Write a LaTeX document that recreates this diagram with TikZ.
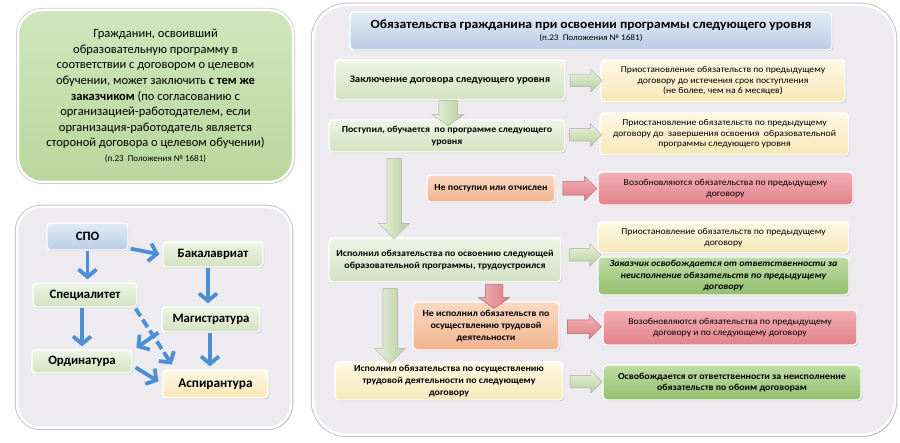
\documentclass[tikz,border=0pt]{standalone}
\usepackage{fontspec}
\setmainfont{Carlito}
\newfontfamily\wf[FakeStretch=1.08]{Carlito}
\usetikzlibrary{shapes.arrows,shadows,arrows.meta,calc}
\definecolor{panelF}{HTML}{EDEBEF}
\definecolor{bigGT}{HTML}{D0E6BC}
\definecolor{bigGB}{HTML}{B8D79C}
\definecolor{gT}{HTML}{EEF4E6}
\definecolor{gB}{HTML}{D3E2C1}
\definecolor{yT}{HTML}{FEF8E4}
\definecolor{yB}{HTML}{F8E8B8}
\definecolor{oT}{HTML}{FAD9C2}
\definecolor{oB}{HTML}{F1B48E}
\definecolor{rT}{HTML}{F1B0B4}
\definecolor{rB}{HTML}{E2818A}
\definecolor{dgT}{HTML}{BEDCA4}
\definecolor{dgB}{HTML}{93C06F}
\definecolor{bT}{HTML}{E2EBF5}
\definecolor{bB}{HTML}{B9CDE5}
\definecolor{barr}{HTML}{4B8FD5}
\definecolor{agT}{HTML}{EAF1E0}
\definecolor{agB}{HTML}{B5CF9C}
\definecolor{arT}{HTML}{F2B3B7}
\definecolor{arB}{HTML}{DD7C85}
\tikzset{
  panel/.style={rounded corners=28pt, fill=panelF, draw=white, line width=2.5pt,
    preaction={draw=gray!45, line width=4.5pt},
    drop shadow={opacity=0.25, shadow xshift=1.5pt, shadow yshift=-1.5pt}},
  box/.style={rounded corners=4pt, draw=white, line width=1.3pt, align=center, inner sep=1pt,
    drop shadow={opacity=0.35, shadow xshift=1.2pt, shadow yshift=-1.2pt}},
  gbox/.style={box, top color=gT, bottom color=gB},
  ybox/.style={box, top color=yT, bottom color=yB},
  obox/.style={box, top color=oT, bottom color=oB},
  rbox/.style={box, top color=rT, bottom color=rB},
  dgbox/.style={box, top color=dgT, bottom color=dgB},
  bbox/.style={box, top color=bT, bottom color=bB},
  rtxt/.style={font=\wf\fontsize{9}{10.6}\selectfont},
  btxt/.style={font=\wf\bfseries\fontsize{9.2}{11.8}\selectfont},
  lbl/.style={font=\bfseries\fontsize{12.8}{14}\selectfont},
  blk/.style={single arrow, draw=gray!65, line width=0.5pt},
  garH/.style={blk, inner sep=6pt, single arrow head extend=5pt, minimum height=32pt,
    top color=agT, bottom color=agB},
  rarH/.style={blk, inner sep=6.5pt, single arrow head extend=5.5pt, minimum height=34pt,
    top color=arT, bottom color=arB, draw=arB!80!black},
  garV/.style={blk, shape border rotate=270, inner sep=7pt, single arrow head extend=8pt,
    left color=agT, right color=agB},
  garS/.style={blk, shape border rotate=270, inner sep=9pt, single arrow head extend=6.5pt, single arrow tip angle=110,
    minimum height=18pt, left color=agT, right color=agB},
  rarS/.style={blk, shape border rotate=270, inner sep=8.5pt, single arrow head extend=6.5pt, single arrow tip angle=110,
    minimum height=18pt, left color=arT, right color=arB, draw=arB!80!black},
  barrow/.style={draw=barr, line width=3.8pt, -{Straight Barb[length=7.5pt,width=18pt]}, shorten >=1pt},
}
\begin{document}
\begin{tikzpicture}[x=1pt,y=-1pt]
\useasboundingbox (0,0) rectangle (900,443);
\fill[white] (0,0) rectangle (900,443);

% ---------- left top box ----------
\node[rounded corners=24pt, draw=white, line width=2.5pt, preaction={draw=gray!40, line width=4pt},
  top color=bigGT, bottom color=bigGB, drop shadow={opacity=0.25, shadow xshift=1.5pt, shadow yshift=-1.5pt},
  minimum width=275pt, minimum height=172pt, align=center, inner sep=0pt,
  font=\fontsize{12.5}{15.6}\selectfont] (info) at (155.5,96)
  {Гражданин, освоивший\\
   образовательную программу в\\
   соответствии с договором о целевом\\
   обучении, может заключить \textbf{с тем же}\\
   \textbf{заказчиком} (по согласованию с\\
   организацией-работодателем, если\\
   организация-работодатель является\\
   стороной договора о целевом обучении)\\[-1pt]
   {\fontsize{9}{11}\selectfont (п.23\ \ Положения № 1681)}};

% ---------- left bottom panel ----------
\node[panel, rounded corners=24pt, minimum width=274pt, minimum height=221pt] (lp) at (154,317.5) {};
\node[bbox, lbl, minimum width=81pt, minimum height=27pt] (spo) at (87.5,236.5) {СПО};
\node[gbox, lbl, minimum width=100pt, minimum height=25pt] (bak) at (213,254.5) {Бакалавриат};
\node[gbox, lbl, minimum width=104pt, minimum height=24pt] (spec) at (85,295) {Специалитет};
\node[gbox, lbl, minimum width=98pt, minimum height=25pt] (mag) at (211,319.5) {Магистратура};
\node[gbox, lbl, minimum width=100pt, minimum height=23pt] (ord) at (82,361.5) {Ординатура};
\node[ybox, lbl, font=\bfseries\fontsize{13.3}{14}\selectfont, minimum width=105pt, minimum height=28pt] (asp) at (215.5,384) {Аспирантура};

\draw[barrow] (spo.south) -- ([yshift=2pt]spo.south |- spec.north);
\draw[barrow] ($(spo.south east)+(2,-2)$) -- ([xshift=-2pt]bak.west);
\draw[barrow] ([xshift=-5pt]bak.south) -- ([xshift=-5pt,yshift=2pt]bak.south |- mag.north);
\draw[barrow] ([xshift=-3pt]spec.south) -- ([xshift=-3pt,yshift=2pt]spec.south |- ord.north);
\draw[barrow, dash pattern=on 9pt off 4pt] ($(spec.south east)+(-2,1)$) -- ($(asp.north west)+(10,-4)$);
\draw[barrow] ($(mag.south west)+(-3,0)$) -- ($(ord.north east)+(3,-1)$);
\draw[barrow] ([xshift=-1pt]mag.south) -- ([xshift=-1pt,yshift=2pt]mag.south |- asp.north);
\draw[barrow] ($(ord.east)+(3,6)$) -- ($(asp.west)+(-3,-2)$);

% ---------- right panel ----------
\node[panel, rounded corners=34pt, minimum width=582pt, minimum height=430pt] (rp) at (604,220) {};

\node[bbox, minimum width=482pt, minimum height=38pt, inner sep=0pt] (title) at (591,31)
  {{\wf\bfseries\fontsize{12.6}{15}\selectfont Обязательства гражданина при освоении программы следующего уровня}\\
   {\wf\fontsize{8.5}{10}\selectfont (п.23\ \ Положения № 1681)}};

\node[gbox, font=\wf\bfseries\fontsize{10}{12}\selectfont, minimum width=230pt, minimum height=40pt] (r1) at (450,80)
  {Заключение договора следующего уровня};
\node[ybox, rtxt, minimum width=244pt, minimum height=42pt] (y1) at (723,81)
  {Приостановление обязательств по предыдущему\\договору до истечения срок поступления\\(не более, чем на 6 месяцев)};

\node[gbox, btxt, minimum width=236pt, minimum height=32pt] (r2) at (447,136)
  {Поступил, обучается\ \ по программе следующего\\уровня};
\node[ybox, rtxt, minimum width=249pt, minimum height=42pt] (y2) at (724.5,134)
  {Приостановление обязательств по предыдущему\\договору до\ \ завершения освоения\ \ образовательной\\программы следующего уровня};

\node[obox, btxt, minimum width=128pt, minimum height=27pt] (r3) at (491,188.5)
  {Не поступил или отчислен};
\node[rbox, rtxt, minimum width=255pt, minimum height=33pt] (x3) at (725.5,188.5)
  {Возобновляются обязательства по предыдущему\\договору};

\node[ybox, rtxt, minimum width=251pt, minimum height=31pt] (y4) at (723.5,237.5)
  {Приостановление обязательств по предыдущему\\договору};
\node[gbox, btxt, minimum width=232pt, minimum height=44pt] (r4) at (445,260)
  {Исполнил обязательства по освоению следующей\\образовательной программы, трудоустроился};
\node[dgbox, font=\wf\bfseries\itshape\fontsize{9.2}{11.5}\selectfont, minimum width=251pt, minimum height=38pt] (g4) at (723.5,276)
  {Заказчик освобождается от ответственности за\\неисполнение обязательств по предыдущему\\договору};

\node[obox, btxt, minimum width=146pt, minimum height=48pt] (r5) at (486,326)
  {Не исполнил обязательств по\\осуществлению трудовой\\деятельности};
\node[rbox, rtxt, minimum width=254pt, minimum height=35pt] (x5) at (730,327.5)
  {Возобновляются обязательства по предыдущему\\договору и по следующему договору};

\node[ybox, btxt, minimum width=228pt, minimum height=38pt] (r6) at (449,381)
  {Исполнил обязательства по осуществлению\\трудовой деятельности по следующему\\договору};
\node[dgbox, btxt, minimum width=258pt, minimum height=35pt] (g6) at (732,382.5)
  {Освобождается от ответственности за неисполнение\\обязательств по обоим договорам};

% ---------- block arrows ----------
\node[garH] (a1) at ($(r1.east)!0.5!(y1.west)$) {};
\node[garH] (a2) at ($(r2.east)!0.5!(y2.west)$) {};
\node[rarH] (a3) at ($(r3.east)!0.5!(x3.west)$) {};
\node[garH] (a4) at (582,255) {};
\node[rarH] (a5) at ($(r5.east)!0.5!(x5.west)$) {};
\node[garH] (a6) at ($(r6.east)!0.5!(g6.west)$) {};
\node[garS] (d1) at (448,110) {};
\node[rarS] (d2) at (494,293.5) {};
\node[garV, minimum height=80pt] (v1) at (394,195) {};
\node[garV, minimum height=75pt] (v2) at (390,322.5) {};
\end{tikzpicture}
\end{document}
